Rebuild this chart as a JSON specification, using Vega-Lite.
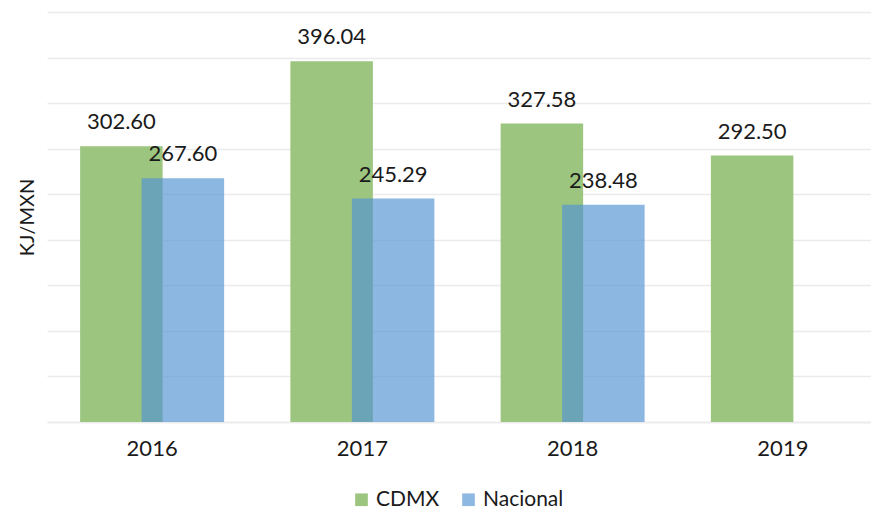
{
  "$schema": "https://vega.github.io/schema/vega-lite/v6.json",
  "width": 841,
  "height": 410,
  "autosize": "none",
  "padding": {"left": 47, "top": 12, "right": 0, "bottom": 89},
  "background": "white",
  "config": {
    "font": "Lato",
    "view": {"stroke": null}
  },
  "data": {
    "values": [
      {"year": "2016", "serie": "CDMX", "value": 302.60, "label": "302.60"},
      {"year": "2016", "serie": "Nacional", "value": 267.60, "label": "267.60"},
      {"year": "2017", "serie": "CDMX", "value": 396.04, "label": "396.04"},
      {"year": "2017", "serie": "Nacional", "value": 245.29, "label": "245.29"},
      {"year": "2018", "serie": "CDMX", "value": 327.58, "label": "327.58"},
      {"year": "2018", "serie": "Nacional", "value": 238.48, "label": "238.48"},
      {"year": "2019", "serie": "CDMX", "value": 292.50, "label": "292.50"}
    ]
  },
  "encoding": {
    "x": {
      "field": "year",
      "type": "nominal",
      "scale": {"paddingInner": 0, "paddingOuter": 0},
      "axis": {
        "title": null,
        "labelAngle": 0,
        "labelFontSize": 22,
        "labelColor": "#1a1a1a",
        "labelPadding": 16,
        "ticks": false,
        "domain": true,
        "domainColor": "#EBEBEB",
        "domainWidth": 1.5,
        "grid": false
      }
    },
    "y": {
      "field": "value",
      "type": "quantitative",
      "scale": {"domain": [0, 450], "nice": false},
      "axis": {
        "title": "KJ/MXN",
        "titleFontSize": 20,
        "titleFontWeight": "normal",
        "titleColor": "#1a1a1a",
        "titlePadding": 10,
        "labels": false,
        "ticks": false,
        "domain": false,
        "grid": true,
        "gridColor": "#EBEBEB",
        "gridWidth": 1.5,
        "values": [0, 50, 100, 150, 200, 250, 300, 350, 400, 450]
      }
    }
  },
  "layer": [
    {
      "transform": [{"filter": "datum.serie == 'CDMX'"}],
      "mark": {"type": "bar", "width": 82.5, "xOffset": -30.75},
      "encoding": {
        "color": {
          "field": "serie",
          "type": "nominal",
          "scale": {"domain": ["CDMX", "Nacional"], "range": ["#9CC57F", "#8DB8E2"]},
          "legend": {
            "title": null,
            "orient": "none",
            "direction": "horizontal",
            "legendX": 304,
            "legendY": 477,
            "symbolType": "square",
            "symbolSize": 160,
            "symbolStrokeWidth": 0,
            "labelFontSize": 21,
            "labelColor": "#1a1a1a",
            "labelOffset": 4,
            "columnPadding": 18
          }
        }
      }
    },
    {
      "transform": [{"filter": "datum.serie == 'Nacional'"}],
      "mark": {"type": "bar", "width": 82.5, "xOffset": 30.75, "color": "#5494D2", "opacity": 0.67},
      "encoding": {}
    },
    {
      "transform": [{"filter": "datum.serie == 'CDMX'"}],
      "mark": {"type": "text", "xOffset": -30.75, "dy": -17, "baseline": "alphabetic", "fontSize": 22, "color": "#1a1a1a"},
      "encoding": {"text": {"field": "label"}}
    },
    {
      "transform": [{"filter": "datum.serie == 'Nacional'"}],
      "mark": {"type": "text", "xOffset": 30.75, "dy": -17, "baseline": "alphabetic", "fontSize": 22, "color": "#1a1a1a"},
      "encoding": {"text": {"field": "label"}}
    }
  ]
}
